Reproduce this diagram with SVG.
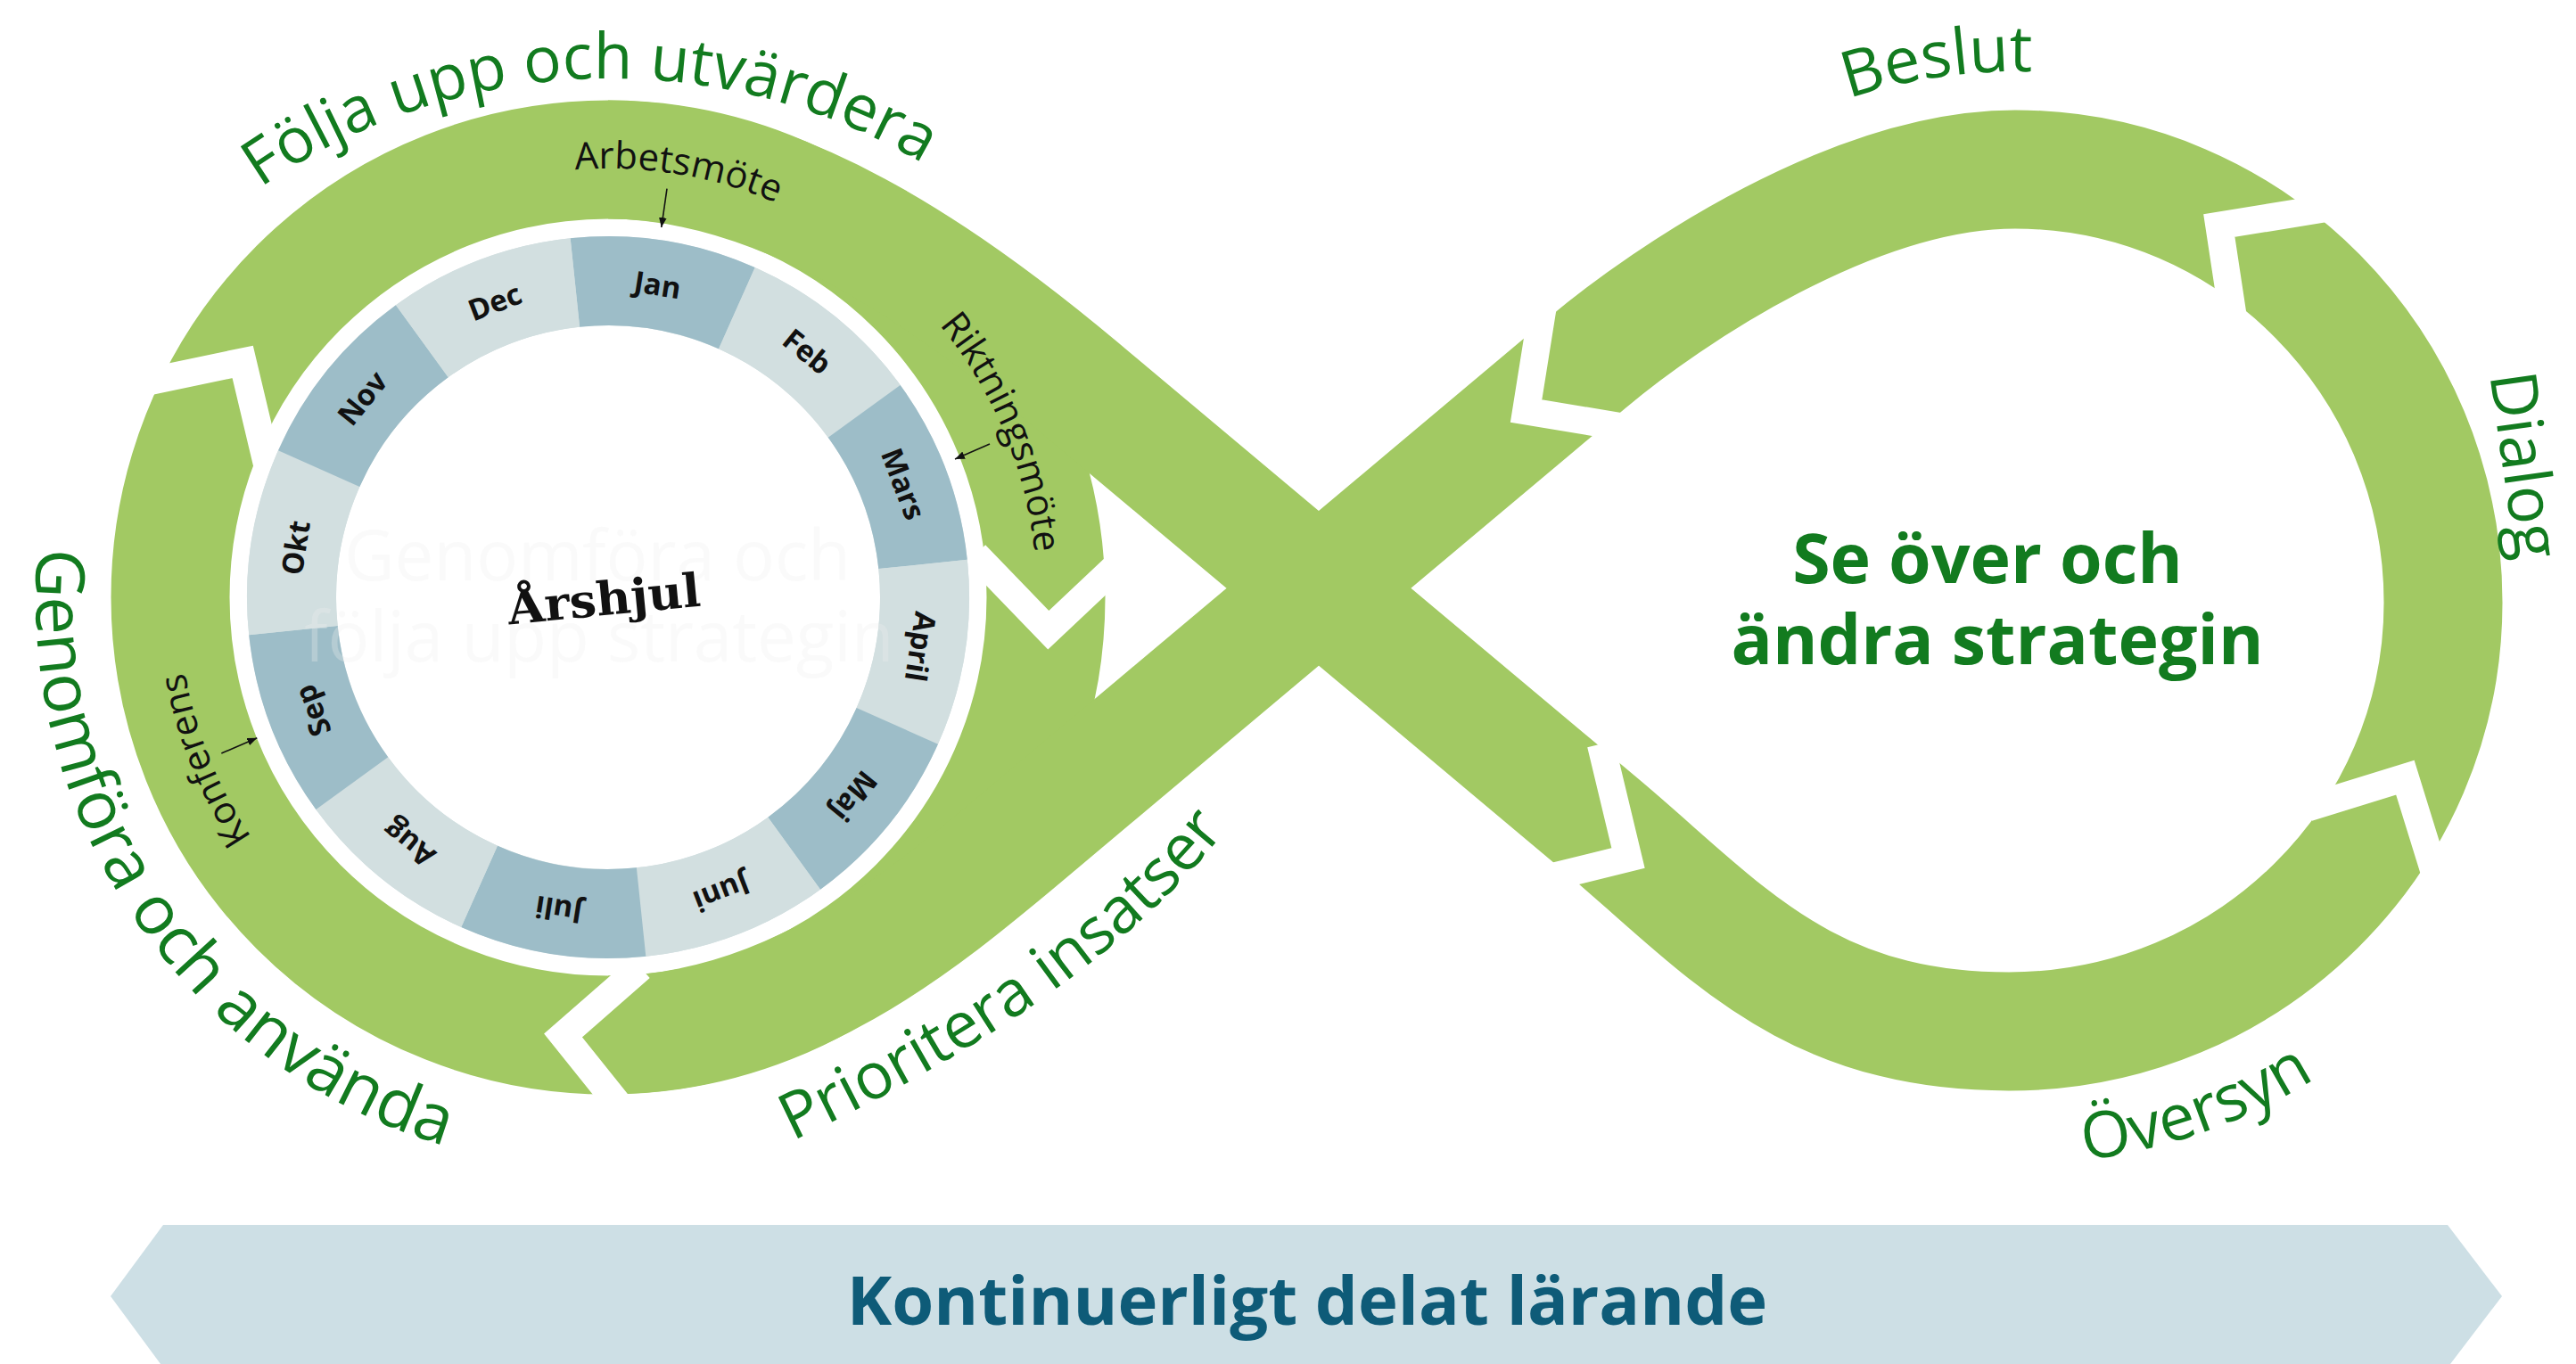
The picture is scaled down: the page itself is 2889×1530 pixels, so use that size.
<svg xmlns="http://www.w3.org/2000/svg" width="2889" height="1530" viewBox="0 0 2889 1530">
<defs>
<style>
.band{fill:none;stroke:#A2C963;stroke-width:133;stroke-linejoin:round}
.notch{fill:none;stroke:#FFFFFF;stroke-width:31;stroke-linejoin:miter;stroke-miterlimit:10;stroke-linecap:butt}
.dk{fill:#9DBDC8}
.lt{fill:#D2DFE0}
.month{font-family:"Open Sans","Liberation Sans",sans-serif;font-weight:700;font-size:33px;fill:#111111;text-anchor:middle}
.stage{font-family:"Open Sans","Liberation Sans",sans-serif;fill:#127B1F}
.note{font-family:"Open Sans","Liberation Sans",sans-serif;font-size:42px;fill:#111111}
.arrow{stroke:#111111;stroke-width:1.6;fill:none;marker-end:url(#ah)}
</style>
<marker id="ah" viewBox="0 0 10 8" refX="10" refY="4" markerWidth="11" markerHeight="9" markerUnits="userSpaceOnUse" orient="auto"><path d="M0,0 L10,4 L0,8 z" fill="#111111"/></marker>
<path id="p-folja" d="M 139.7,354.5 A 691 691 0 0 1 1197.7,315.8"/>
<path id="p-genom" d="M 103.8,391.1 A 642 642 0 0 0 729.6,1310.3"/>
<path id="p-prio" d="M 888.7,1280 Q 1206,1131 1359.4,950 L 1417.6,881.3"/>
<path id="p-beslut" d="M 1878.9,219.5 A 596 596 0 0 1 2496.8,128.2"/>
<path id="p-oversyn" d="M 1942.3,1218.8 A 630 630 0 0 0 2852.1,896.6"/>
<path id="p-arbets" d="M 368.6,305.1 A 481 481 0 0 1 1095.8,424.7"/>
<path id="p-rikt" d="M 825.1,210.7 A 481 481 0 0 1 1109.4,890.6"/>
<path id="p-konf" d="M 533.1,1128.4 A 482 482 0 0 1 256.4,443.7"/>
</defs>
<rect width="2889" height="1530" fill="#FFFFFF"/>

<g id="infinity-band">
<circle class="band" cx="682" cy="670" r="491"/>
<path class="band" d="M 682,179 C 872,179 1057.7,306.4 1210.9,435 L 1794,924 C 1931.9,1039.7 2023,1157 2253,1157 C 2522,1157 2740,941.6 2740,676 C 2740,408 2525,190 2260,190 C 2080,190 1872,329.8 1780,407 L 1149.6,936.5 C 1034.7,1033 882,1161 682,1161"/>
</g>

<g id="notches">
<polyline class="notch" points="165.9,428.1 272.2,405.9 299.6,521.2"/>
<polyline class="notch" points="1094,622 1175.8,706.7 1254.8,632.3"/>
<polyline class="notch" points="718.5,1085.3 631.5,1161.5 699,1245.6"/>
<polyline class="notch" points="1795.3,834.6 1826,962.5 1729.6,986.3"/>
<polyline class="notch" points="2588.4,905.9 2697.4,872.2 2730.3,978.3"/>
<polyline class="notch" points="2607.7,233.8 2488.8,253 2504.3,355.2"/>
<polyline class="notch" points="1730,345.7 1711.6,461 1818.4,478.8"/>
</g>

<g id="arshjul">
<circle cx="682" cy="670" r="355" fill="none" stroke="#D2DFE0" stroke-width="100"/>
<g id="m-jan"><path class="dk" d="M 639.67,267.22 A 405 405 0 0 1 846.73,300.01 L 806.05,391.37 A 305 305 0 0 0 650.12,366.67 Z"/><text class="month" x="682" y="327" transform="rotate(9 682 670)">Jan</text></g>
<g id="m-feb"><path class="lt" d="M 846.73,300.01 A 405 405 0 0 1 1009.65,431.95 L 928.75,490.73 A 305 305 0 0 0 806.05,391.37 Z"/><text class="month" x="682" y="327" transform="rotate(39 682 670)">Feb</text></g>
<g id="m-mars"><path class="dk" d="M 1009.65,431.95 A 405 405 0 0 1 1084.78,627.67 L 985.33,638.12 A 305 305 0 0 0 928.75,490.73 Z"/><text class="month" x="682" y="327" transform="rotate(69 682 670)">Mars</text></g>
<g id="m-april"><path class="lt" d="M 1084.78,627.67 A 405 405 0 0 1 1051.99,834.73 L 960.63,794.05 A 305 305 0 0 0 985.33,638.12 Z"/><text class="month" x="682" y="327" transform="rotate(99 682 670)">April</text></g>
<g id="m-maj"><path class="dk" d="M 1051.99,834.73 A 405 405 0 0 1 920.05,997.65 L 861.27,916.75 A 305 305 0 0 0 960.63,794.05 Z"/><text class="month" x="682" y="327" transform="rotate(129 682 670)">Maj</text></g>
<g id="m-juni"><path class="lt" d="M 920.05,997.65 A 405 405 0 0 1 724.33,1072.78 L 713.88,973.33 A 305 305 0 0 0 861.27,916.75 Z"/><text class="month" x="682" y="327" transform="rotate(159 682 670)">Juni</text></g>
<g id="m-juli"><path class="dk" d="M 724.33,1072.78 A 405 405 0 0 1 517.27,1039.99 L 557.95,948.63 A 305 305 0 0 0 713.88,973.33 Z"/><text class="month" x="682" y="327" transform="rotate(189 682 670)">Juli</text></g>
<g id="m-aug"><path class="lt" d="M 517.27,1039.99 A 405 405 0 0 1 354.35,908.05 L 435.25,849.27 A 305 305 0 0 0 557.95,948.63 Z"/><text class="month" x="682" y="327" transform="rotate(219 682 670)">Aug</text></g>
<g id="m-sep"><path class="dk" d="M 354.35,908.05 A 405 405 0 0 1 279.22,712.33 L 378.67,701.88 A 305 305 0 0 0 435.25,849.27 Z"/><text class="month" x="682" y="327" transform="rotate(249 682 670)">Sep</text></g>
<g id="m-okt"><path class="lt" d="M 279.22,712.33 A 405 405 0 0 1 312.01,505.27 L 403.37,545.95 A 305 305 0 0 0 378.67,701.88 Z"/><text class="month" x="682" y="327" transform="rotate(279 682 670)">Okt</text></g>
<g id="m-nov"><path class="dk" d="M 312.01,505.27 A 405 405 0 0 1 443.95,342.35 L 502.73,423.25 A 305 305 0 0 0 403.37,545.95 Z"/><text class="month" x="682" y="327" transform="rotate(309 682 670)">Nov</text></g>
<g id="m-dec"><path class="lt" d="M 443.95,342.35 A 405 405 0 0 1 639.67,267.22 L 650.12,366.67 A 305 305 0 0 0 502.73,423.25 Z"/><text class="month" x="682" y="327" transform="rotate(339 682 670)">Dec</text></g>
<g id="faint-title" font-family="'Open Sans','Liberation Sans',sans-serif" font-size="78" fill="#EEEEEE" fill-opacity="0.3" text-anchor="middle">
<text x="670" y="651">Genomföra och</text>
<text x="672" y="742">följa upp strategin</text>
</g>
<text id="arshjul-title" x="679" y="690" font-family="'DejaVu Serif','Liberation Serif',serif" font-weight="700" font-size="52" fill="#111111" text-anchor="middle" textLength="217" lengthAdjust="spacingAndGlyphs" transform="rotate(-5.5 679 690)">Årshjul</text>
</g>

<g id="stage-labels">
<text id="t-folja" class="stage" font-size="71"><textPath href="#p-folja" startOffset="50%" text-anchor="middle">Följa upp och utvärdera</textPath></text>
<text id="t-genom" class="stage" font-size="76"><textPath href="#p-genom" startOffset="50%" text-anchor="middle">Genomföra och använda</textPath></text>
<text id="t-prio" class="stage" font-size="72"><textPath href="#p-prio" startOffset="0">Prioritera insatser</textPath></text>
<text id="t-beslut" class="stage" font-size="72"><textPath href="#p-beslut" startOffset="50%" text-anchor="middle">Beslut</textPath></text>
<text id="t-dialog" class="stage" font-size="72" x="2807" y="525" text-anchor="middle" transform="rotate(82 2807 525)">Dialog</text>
<text id="t-oversyn" class="stage" font-size="72"><textPath href="#p-oversyn" startOffset="50%" text-anchor="middle">Översyn</textPath></text>
<g id="t-center" class="stage" font-size="77" font-weight="700" text-anchor="middle">
<text x="2229" y="654">Se över och</text>
<text x="2240" y="745">ändra strategin</text>
</g>
</g>

<g id="meetings">
<text class="note"><textPath href="#p-arbets" startOffset="50%" text-anchor="middle">Arbetsmöte</textPath></text>
<text class="note"><textPath href="#p-rikt" startOffset="50%" text-anchor="middle">Riktningsmöte</textPath></text>
<text class="note"><textPath href="#p-konf" startOffset="50%" text-anchor="middle">Konferens</textPath></text>
</g>

<g id="connectors">
<line class="arrow" x1="748" y1="211.7" x2="741.8" y2="255"/>
<line class="arrow" x1="1110" y1="498" x2="1071" y2="515"/>
<line class="arrow" x1="248.3" y1="845" x2="288.3" y2="827.7"/>
</g>

<g id="banner">
<polygon points="183,1374 2745,1374 2806,1454 2745,1534 183,1534 124,1454" fill="#CDDFE5"/>
<text x="1466" y="1486" font-family="'Open Sans','Liberation Sans',sans-serif" font-weight="700" font-size="76" fill="#0E5B78" text-anchor="middle">Kontinuerligt delat lärande</text>
</g>
</svg>
